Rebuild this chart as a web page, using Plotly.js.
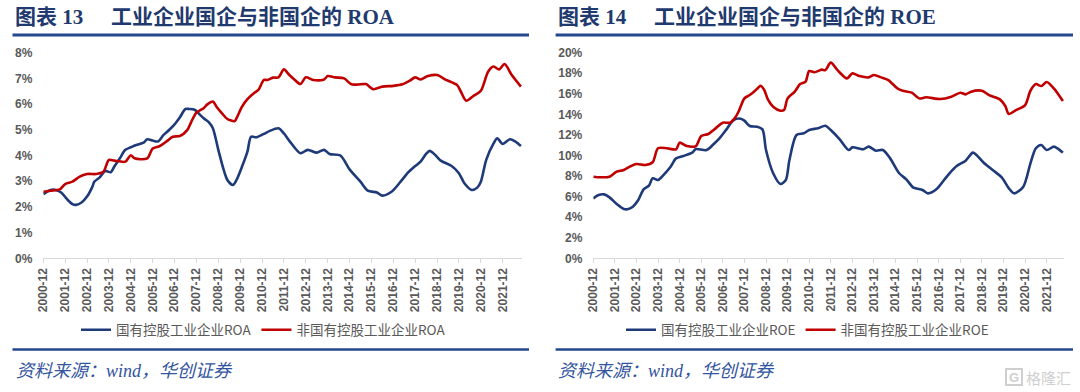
<!DOCTYPE html>
<html><head><meta charset="utf-8">
<script src="https://cdn.plot.ly/plotly-3.0.1.min.js"></script>
<style>html,body{margin:0;padding:0;background:#fff}#chart{width:1080px;height:392px}</style>
</head><body><div id="chart"></div><script>
// ---- data (percent) ----
const tickYears = [2000,2001,2002,2003,2004,2005,2006,2007,2008,2009,2010,2011,2012,2013,2014,2015,2016,2017,2018,2019,2020,2021];
const roaTicks = [0,1,2,3,4,5,6,7,8];
const roeTicks = [0,2,4,6,8,10,12,14,16,18,20];

const roaSoeDates = ['2000-12','2001-04','2001-07','2001-10','2002-01','2002-04','2002-06','2002-09','2002-12','2003-03','2003-04','2003-07','2003-10','2004-01','2004-03','2004-06','2004-09','2004-12','2005-03','2005-07','2005-09','2005-12','2006-03','2006-06','2006-09','2006-12','2007-03','2007-06','2007-08','2007-11','2008-02','2008-04','2008-07','2008-09','2008-12','2009-03','2009-05','2009-08','2009-10','2010-01','2010-04','2010-06','2010-09','2011-01','2011-04','2011-09','2011-12','2012-03','2012-09','2013-01','2013-06','2013-10','2014-01','2014-07','2014-12','2015-06','2015-10','2016-03','2016-06','2016-11','2017-04','2017-08','2017-12','2018-03','2018-06','2018-08','2018-11','2019-02','2019-08','2019-12','2020-03','2020-07','2020-10','2020-12','2021-03','2021-07','2021-09','2021-12','2022-04','2022-07','2022-10'];
const roaSoe = [2.50,2.66,2.66,2.55,2.30,2.11,2.08,2.17,2.40,2.79,2.98,3.15,3.40,3.35,3.57,3.89,4.22,4.32,4.41,4.50,4.63,4.58,4.55,4.80,4.99,5.21,5.49,5.81,5.81,5.78,5.58,5.45,5.28,5.06,4.22,3.44,3.05,2.85,3.05,3.57,4.15,4.73,4.71,4.84,4.95,5.06,4.86,4.57,4.09,4.22,4.11,4.22,4.06,4.00,3.46,2.98,2.63,2.56,2.44,2.59,2.98,3.33,3.59,3.76,4.06,4.18,4.02,3.80,3.59,3.31,2.92,2.66,2.75,2.98,3.83,4.47,4.67,4.45,4.63,4.54,4.37];

const roaNonDates = ['2000-12','2001-04','2001-09','2001-12','2002-04','2002-08','2002-12','2003-05','2003-09','2003-12','2004-03','2004-09','2004-12','2005-02','2005-09','2005-12','2006-04','2006-08','2006-11','2007-03','2007-07','2007-09','2007-12','2008-04','2008-06','2008-09','2008-11','2009-02','2009-05','2009-09','2009-10','2010-01','2010-04','2010-08','2010-10','2011-01','2011-03','2011-06','2011-09','2011-12','2012-03','2012-06','2012-09','2012-12','2013-04','2013-10','2013-12','2014-04','2014-09','2015-01','2015-06','2015-09','2016-01','2016-06','2016-12','2017-05','2017-09','2017-12','2018-03','2018-07','2018-12','2019-05','2019-11','2020-01','2020-04','2020-08','2020-12','2021-04','2021-07','2021-10','2022-01','2022-05','2022-10'];
const roaNon = [2.59,2.63,2.68,2.89,2.98,3.18,3.28,3.28,3.37,3.83,3.80,3.76,4.01,3.89,3.89,4.27,4.37,4.57,4.73,4.76,4.99,5.28,5.67,5.84,5.99,6.10,5.90,5.64,5.42,5.34,5.45,5.90,6.19,6.45,6.55,6.94,6.94,7.03,7.04,7.35,7.13,6.94,6.78,7.04,6.94,6.96,7.09,7.04,7.00,6.77,6.77,6.78,6.58,6.68,6.71,6.77,6.91,7.04,6.96,7.09,7.13,6.94,6.74,6.49,6.13,6.32,6.52,7.26,7.46,7.35,7.56,7.13,6.68];

const roeSoeDates = ['2000-12','2001-03','2001-06','2001-09','2002-01','2002-05','2002-07','2002-10','2003-01','2003-04','2003-07','2003-09','2003-12','2004-03','2004-07','2004-10','2005-02','2005-07','2005-09','2006-03','2006-07','2006-10','2007-02','2007-06','2007-10','2007-12','2008-03','2008-07','2008-10','2008-12','2009-04','2009-08','2009-11','2010-01','2010-05','2010-09','2010-12','2011-05','2011-09','2011-12','2012-05','2012-10','2012-12','2013-06','2013-09','2014-01','2014-05','2014-09','2015-02','2015-06','2015-10','2016-03','2016-06','2016-11','2017-03','2017-06','2017-10','2018-03','2018-07','2018-09','2019-01','2019-06','2019-11','2020-03','2020-06','2020-11','2021-03','2021-06','2021-09','2021-12','2022-04','2022-06','2022-09'];
const roeSoe = [5.83,6.16,6.22,5.93,5.28,4.80,4.77,5.02,5.67,6.71,7.07,7.78,7.62,8.10,8.91,9.72,9.95,10.28,10.63,10.53,11.12,11.64,12.54,13.45,13.58,13.39,12.87,12.80,12.54,10.53,8.27,7.23,7.62,9.56,11.99,12.16,12.48,12.66,12.90,12.48,11.57,10.53,10.79,10.60,10.86,10.47,10.53,9.72,8.27,7.68,6.87,6.65,6.32,6.77,7.62,8.27,8.98,9.50,10.28,10.05,9.30,8.59,7.88,6.81,6.32,6.97,9.24,10.70,11.02,10.53,10.86,10.70,10.28];

const roeNonDates = ['2000-12','2001-04','2001-09','2002-01','2002-05','2002-09','2002-12','2003-05','2003-09','2003-12','2004-05','2004-10','2004-12','2005-04','2005-09','2005-12','2006-04','2006-08','2006-12','2007-04','2007-07','2007-09','2007-12','2008-03','2008-07','2008-09','2008-11','2009-01','2009-04','2009-08','2009-10','2009-12','2010-04','2010-07','2010-10','2010-12','2011-03','2011-07','2011-09','2011-12','2012-04','2012-09','2012-12','2013-04','2013-09','2013-12','2014-04','2014-08','2015-01','2015-04','2015-09','2016-01','2016-05','2017-01','2017-07','2017-12','2018-03','2018-06','2018-12','2019-04','2019-10','2020-01','2020-03','2020-07','2020-12','2021-03','2021-06','2021-09','2021-12','2022-04','2022-09'];
const roeNon = [7.94,7.88,7.94,8.43,8.59,8.98,9.17,9.08,9.34,10.70,10.70,10.60,11.25,10.92,10.92,11.90,12.09,12.64,13.19,13.19,13.71,14.36,15.56,15.88,16.47,16.79,16.37,15.46,14.75,14.36,14.42,15.56,16.21,16.95,17.18,18.22,18.10,18.35,18.31,19.03,18.25,17.50,17.99,17.73,17.60,17.83,17.60,17.34,16.53,16.30,16.11,15.56,15.66,15.49,15.72,16.11,15.95,16.21,16.30,15.88,15.46,14.81,14.04,14.42,14.91,16.30,16.95,16.76,17.15,16.53,15.30];

const names = {
  roaSoe: '国有控股工业企业ROA', roaNon: '非国有控股工业企业ROA',
  roeSoe: '国有控股工业企业ROE', roeNon: '非国有控股工业企业ROE'
};
const titleLeftNum = '图表 13', titleLeftText = '工业企业国企与非国企的 ROA';
const titleRightNum = '图表 14', titleRightText = '工业企业国企与非国企的 ROE';
const sourceText = '资料来源：wind，华创证券';

// ---- styling ----
const W = 1080, H = 392;
const px = v => v / W, py = v => (H - v) / H;
const BLUE = '#1f3a78', RED = '#c00000', GREY = '#595959', AX = '#d9d9d9';
const NAVY = '#1f3a6e', RULE = '#24478f', SRC = '#3355a0';

const tickVals = tickYears.map(y => y + '-12-01');
const tickText = tickYears.map(y => y + '-12');

const lineStyle = c => ({color: c, width: 2.6, shape: 'spline', smoothing: 0.8});

const traces = [
  {x: roaSoeDates, y: roaSoe, name: names.roaSoe, type: 'scatter', mode: 'lines', line: lineStyle(BLUE), xaxis: 'x', yaxis: 'y', legend: 'legend'},
  {x: roaNonDates, y: roaNon, name: names.roaNon, type: 'scatter', mode: 'lines', line: lineStyle(RED), xaxis: 'x', yaxis: 'y', legend: 'legend'},
  {x: roeSoeDates, y: roeSoe, name: names.roeSoe, type: 'scatter', mode: 'lines', line: lineStyle(BLUE), xaxis: 'x2', yaxis: 'y2', legend: 'legend2'},
  {x: roeNonDates, y: roeNon, name: names.roeNon, type: 'scatter', mode: 'lines', line: lineStyle(RED), xaxis: 'x2', yaxis: 'y2', legend: 'legend2'}
];

const xTickFont = {family: 'Liberation Sans, Arial, sans-serif', size: 12, color: GREY, weight: 'bold'};
const yTickFont = {family: 'Liberation Sans, Arial, sans-serif', size: 12, color: GREY, weight: 'bold'};

const xCommon = {
  type: 'date', tickmode: 'array', tickvals: tickVals, ticktext: tickText, tickangle: -90,
  tickfont: xTickFont, showgrid: false, zeroline: false, showline: true, linecolor: AX, linewidth: 1,
  ticks: 'outside', ticklen: 4, tickcolor: AX, tickwidth: 1, fixedrange: true
};
const yCommon = {
  showgrid: false, zeroline: false, showline: false, ticks: '', tickmode: 'array',
  tickfont: yTickFont, ticklabelstandoff: 10, fixedrange: true
};
const yDom = [py(258.3), py(52.7)];

const legendFont = {family: 'Noto Sans CJK SC, sans-serif', size: 13.5, color: GREY};

const layout = {
  width: W, height: H, autosize: false,
  margin: {l: 0, r: 0, t: 0, b: 0},
  paper_bgcolor: '#ffffff', plot_bgcolor: '#ffffff',
  showlegend: true,
  xaxis: Object.assign({}, xCommon, {domain: [px(43.3), px(522)], range: ['2000-12-01', '2022-10-19'], anchor: 'y'}),
  yaxis: Object.assign({}, yCommon, {domain: yDom, range: [0, 8], tickvals: roaTicks, ticktext: roaTicks.map(v => v + '%'), anchor: 'x'}),
  xaxis2: Object.assign({}, xCommon, {domain: [px(593.3), px(1064)], range: ['2000-12-01', '2022-09-20'], anchor: 'y2'}),
  yaxis2: Object.assign({}, yCommon, {domain: yDom, range: [0, 20], tickvals: roeTicks, ticktext: roeTicks.map(v => v + '%'), anchor: 'x2'}),
  legend: {orientation: 'h', x: px(76), xanchor: 'left', y: py(330), yanchor: 'middle', font: legendFont, bgcolor: 'rgba(0,0,0,0)', borderwidth: 0, tracegroupgap: 0},
  legend2: {orientation: 'h', x: px(621), xanchor: 'left', y: py(330), yanchor: 'middle', font: legendFont, bgcolor: 'rgba(0,0,0,0)', borderwidth: 0, tracegroupgap: 0},
  shapes: [
    {type: 'line', xref: 'paper', yref: 'paper', x0: px(12.5), x1: px(529), y0: py(35), y1: py(35), line: {color: RULE, width: 3}},
    {type: 'line', xref: 'paper', yref: 'paper', x0: px(555.6), x1: px(1073), y0: py(35), y1: py(35), line: {color: RULE, width: 3}},
    {type: 'line', xref: 'paper', yref: 'paper', x0: px(12.5), x1: px(529), y0: py(349.5), y1: py(349.5), line: {color: RULE, width: 2.5}},
    {type: 'line', xref: 'paper', yref: 'paper', x0: px(555.6), x1: px(1073), y0: py(349.5), y1: py(349.5), line: {color: RULE, width: 2.5}},
    {type: 'rect', xref: 'paper', yref: 'paper', x0: px(1006), x1: px(1022), y0: py(385), y1: py(369), line: {color: '#cfcfcf', width: 2}}
  ],
  annotations: [
    {text: titleLeftNum, xref: 'paper', yref: 'paper', x: px(13), y: py(17), xanchor: 'left', yanchor: 'middle', showarrow: false,
     font: {family: 'Liberation Serif, Noto Sans CJK SC, serif', size: 21, color: NAVY, weight: 'bold'}},
    {text: titleLeftText, xref: 'paper', yref: 'paper', x: px(109), y: py(17), xanchor: 'left', yanchor: 'middle', showarrow: false,
     font: {family: 'Liberation Serif, Noto Sans CJK SC, serif', size: 21, color: NAVY, weight: 'bold'}},
    {text: titleRightNum, xref: 'paper', yref: 'paper', x: px(556), y: py(17), xanchor: 'left', yanchor: 'middle', showarrow: false,
     font: {family: 'Liberation Serif, Noto Sans CJK SC, serif', size: 21, color: NAVY, weight: 'bold'}},
    {text: titleRightText, xref: 'paper', yref: 'paper', x: px(652), y: py(17), xanchor: 'left', yanchor: 'middle', showarrow: false,
     font: {family: 'Liberation Serif, Noto Sans CJK SC, serif', size: 21, color: NAVY, weight: 'bold'}},
    {text: '<i>' + sourceText + '</i>', xref: 'paper', yref: 'paper', x: px(14), y: py(371), xanchor: 'left', yanchor: 'middle', showarrow: false,
     font: {family: 'Liberation Serif, Noto Sans CJK SC, serif', size: 18, color: SRC}},
    {text: '<i>' + sourceText + '</i>', xref: 'paper', yref: 'paper', x: px(556), y: py(371), xanchor: 'left', yanchor: 'middle', showarrow: false,
     font: {family: 'Liberation Serif, Noto Sans CJK SC, serif', size: 18, color: SRC}},
    {text: 'G', xref: 'paper', yref: 'paper', x: px(1014), y: py(377), xanchor: 'center', yanchor: 'middle', showarrow: false,
     font: {family: 'Liberation Sans, sans-serif', size: 13, color: '#cfcfcf', weight: 'bold'}},
    {text: '格隆汇', xref: 'paper', yref: 'paper', x: px(1024), y: py(377), xanchor: 'left', yanchor: 'middle', showarrow: false,
     font: {family: 'Noto Sans CJK SC, sans-serif', size: 15, color: '#cfcfcf'}}
  ]
};

Plotly.newPlot('chart', traces, layout, {staticPlot: true, displayModeBar: false});
</script></body></html>
